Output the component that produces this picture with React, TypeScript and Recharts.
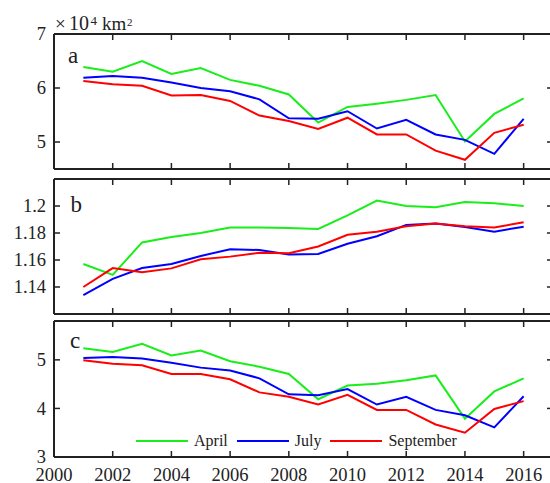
import React from "react";
import { LineChart, Line, XAxis, YAxis, Legend } from "recharts";

const years = [2001, 2002, 2003, 2004, 2005, 2006, 2007, 2008, 2009, 2010, 2011, 2012, 2013, 2014, 2015, 2016];
const yearTicks = [2000, 2002, 2004, 2006, 2008, 2010, 2012, 2014, 2016];

// panel a
const aprilA = [6.39, 6.3, 6.5, 6.26, 6.37, 6.15, 6.04, 5.88, 5.36, 5.65, 5.71, 5.78, 5.87, 5.01, 5.52, 5.81];
const julyA = [6.19, 6.22, 6.19, 6.1, 6.0, 5.94, 5.79, 5.44, 5.43, 5.57, 5.25, 5.41, 5.14, 5.04, 4.78, 5.43];
const septA = [6.13, 6.07, 6.04, 5.86, 5.87, 5.76, 5.49, 5.39, 5.24, 5.45, 5.14, 5.14, 4.84, 4.67, 5.17, 5.32];
const ticksA = [5, 6, 7];

// panel b
const aprilB = [1.157, 1.149, 1.173, 1.177, 1.18, 1.184, 1.184, 1.1837, 1.183, 1.193, 1.204, 1.2, 1.199, 1.203, 1.202, 1.2];
const julyB = [1.134, 1.146, 1.154, 1.157, 1.163, 1.168, 1.1674, 1.164, 1.1644, 1.172, 1.1776, 1.186, 1.187, 1.1844, 1.181, 1.1847];
const septB = [1.14, 1.154, 1.151, 1.1538, 1.1605, 1.1625, 1.1654, 1.165, 1.17, 1.1787, 1.181, 1.185, 1.187, 1.185, 1.184, 1.188];
const ticksB = [1.14, 1.16, 1.18, 1.2];

// panel c
const aprilC = [5.24, 5.16, 5.33, 5.09, 5.19, 4.97, 4.86, 4.71, 4.19, 4.47, 4.51, 4.58, 4.68, 3.79, 4.35, 4.62];
const julyC = [5.04, 5.06, 5.03, 4.94, 4.84, 4.78, 4.62, 4.29, 4.27, 4.4, 4.08, 4.24, 3.97, 3.86, 3.61, 4.25];
const septC = [4.99, 4.92, 4.89, 4.71, 4.71, 4.6, 4.33, 4.24, 4.08, 4.28, 3.97, 3.97, 3.67, 3.5, 3.99, 4.15];
const ticksC = [3, 4, 5];

const FONT = '"Liberation Serif", "Times New Roman", serif';
const INK = "#222";
const GREEN = "#1aee1a";
const BLUE = "#0000ff";
const RED = "#ff0000";
const TICK = 6;

const build = (april: number[], july: number[], sept: number[]) =>
  years.map((year, i) => ({ year, april: april[i], july: july[i], sept: sept[i] }));

const LeftTick = (props: any) => {
  const { x, y, payload } = props;
  return (
    <g>
      <line x1={x + 8} x2={x + 8 + TICK} y1={y} y2={y} stroke={INK} strokeWidth={1.5} />
      <text x={x} y={y} dy="0.35em" textAnchor="end" fontFamily={FONT} fontSize={18.5} fill={INK}>
        {String(payload.value)}
      </text>
    </g>
  );
};

const RightTick = (props: any) => {
  const { x, y } = props;
  return <line x1={x - 8} x2={x - 8 - TICK} y1={y} y2={y} stroke={INK} strokeWidth={1.5} />;
};

const TopTick = (props: any) => {
  const { x, y } = props;
  return <line x1={x} x2={x} y1={y + 8} y2={y + 8 + TICK} stroke={INK} strokeWidth={1.5} />;
};

const BottomTick = (props: any) => {
  const { x, y } = props;
  return <line x1={x} x2={x} y1={y - 8} y2={y - 8 - TICK} stroke={INK} strokeWidth={1.5} />;
};

const BottomTickLabel = (props: any) => {
  const { x, y, payload } = props;
  return (
    <g>
      <line x1={x} x2={x} y1={y - 8} y2={y - 8 - TICK} stroke={INK} strokeWidth={1.5} />
      <text x={x} y={y + 16} textAnchor="middle" fontFamily={FONT} fontSize={18.5} fill={INK}>
        {String(payload.value)}
      </text>
    </g>
  );
};

const renderLegend = (props: any) => {
  const { payload } = props;
  return (
    <div style={{ display: "flex", alignItems: "center", fontFamily: FONT, fontSize: 16, color: INK }}>
      {(payload || []).map((entry: any) => (
        <div key={entry.value} style={{ display: "flex", alignItems: "center", marginRight: 9 }}>
          <svg width={52} height={4} style={{ marginRight: 6 }}>
            <line x1={0} x2={52} y1={2} y2={2} stroke={entry.color} strokeWidth={2} />
          </svg>
          <span style={{ lineHeight: "18px" }}>{entry.value}</span>
        </div>
      ))}
    </div>
  );
};

const W = 560;
const H = 483;
const LEFT = 54;

type PanelProps = {
  data: any[];
  top: number;
  bottom: number;
  domain: [number, number];
  ticks: number[];
  labels?: boolean;
  legend?: boolean;
};

const Panel = ({ data, top, bottom, domain, ticks, labels, legend }: PanelProps) => {
  const bottomAxisH = labels ? 26 : 1;
  return (
    <div style={{ position: "absolute", left: 0, top: 0 }}>
      <LineChart
        width={W}
        height={H}
        data={data}
        margin={{ top: top - 1, bottom: H - bottom - bottomAxisH, left: 0, right: 0 }}
      >
        <XAxis
          dataKey="year"
          type="number"
          domain={[2000, 2017]}
          ticks={yearTicks}
          interval={0}
          allowDataOverflow
          height={bottomAxisH}
          axisLine={{ stroke: INK, strokeWidth: 2 }}
          tickLine={false}
          tick={labels ? <BottomTickLabel /> : <BottomTick />}
        />
        <XAxis
          xAxisId="top"
          orientation="top"
          dataKey="year"
          type="number"
          domain={[2000, 2017]}
          ticks={yearTicks}
          interval={0}
          allowDataOverflow
          height={1}
          axisLine={{ stroke: INK, strokeWidth: 2 }}
          tickLine={false}
          tick={<TopTick />}
        />
        <YAxis
          type="number"
          domain={domain}
          ticks={ticks}
          interval={0}
          allowDataOverflow
          width={LEFT}
          axisLine={{ stroke: INK, strokeWidth: 2 }}
          tickLine={false}
          tick={<LeftTick />}
        />
        <YAxis
          yAxisId="right"
          orientation="right"
          type="number"
          domain={domain}
          ticks={ticks}
          interval={0}
          allowDataOverflow
          width={7}
          axisLine={{ stroke: INK, strokeWidth: 2 }}
          tickLine={false}
          tick={<RightTick />}
        />
        {legend && (
          <Legend
            layout="horizontal"
            verticalAlign="middle"
            align="center"
            content={renderLegend}
            wrapperStyle={{ position: "absolute", left: 136, top: 432, width: "auto" }}
          />
        )}
        <Line dataKey="april" name="April" stroke={GREEN} strokeWidth={2} dot={false} isAnimationActive={false} />
        <Line dataKey="july" name="July" stroke={BLUE} strokeWidth={2} dot={false} isAnimationActive={false} />
        <Line dataKey="sept" name="September" stroke={RED} strokeWidth={2} dot={false} isAnimationActive={false} />
      </LineChart>
    </div>
  );
};

export default function App() {
  return (
    <div style={{ position: "fixed", left: 0, top: 0, width: 550, height: 483, overflow: "hidden", background: "#fff" }}>
      <Panel data={build(aprilA, julyA, septA)} top={34} bottom={169} domain={[4.5, 7]} ticks={ticksA} />
      <Panel data={build(aprilB, julyB, septB)} top={179} bottom={314} domain={[1.12, 1.22]} ticks={ticksB} />
      <Panel data={build(aprilC, julyC, septC)} top={321} bottom={457} domain={[3, 5.8]} ticks={ticksC} labels legend />
      <svg width={550} height={483} style={{ position: "absolute", left: 0, top: 0, pointerEvents: "none" }}>
        <g fontFamily={FONT} fill={INK}>
          <text x={55} y={30} fontSize={19}>×</text>
          <text x={69} y={30} fontSize={20}>10</text>
          <text x={90.5} y={25} fontSize={13}>4</text>
          <text x={102} y={30} fontSize={19}>km</text>
          <text x={127} y={26} fontSize={11}>2</text>
          <text x={68} y={63} fontSize={23}>a</text>
          <text x={70.5} y={211.5} fontSize={23}>b</text>
          <text x={70} y={347.5} fontSize={23}>c</text>
        </g>
      </svg>
    </div>
  );
}
